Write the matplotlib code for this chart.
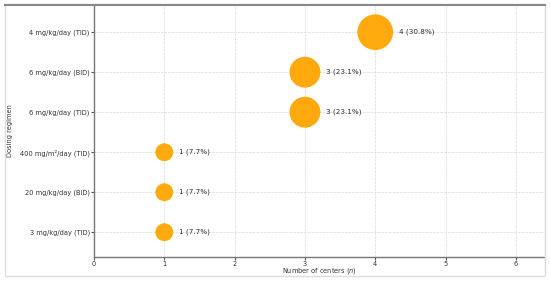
import matplotlib
matplotlib.use("Agg")
import matplotlib.pyplot as plt
from matplotlib.lines import Line2D
from matplotlib.patches import Rectangle

# data (bottom to top)
regimens = [
    "3 mg/kg/day (TID)",
    "20 mg/kg/day (BID)",
    "400 mg/m\u00b2/day (TID)",
    "6 mg/kg/day (TID)",
    "6 mg/kg/day (BID)",
    "4 mg/kg/day (TID)",
]
centers = [1, 1, 1, 3, 3, 4]
percent = [7.7, 7.7, 7.7, 23.1, 23.1, 30.8]

fig = plt.figure(figsize=(5.5, 2.82), dpi=100)
ax = fig.add_axes([94 / 550, 25 / 282, 450 / 550, 252 / 282])

ypos = list(range(len(regimens)))
sizes = [c * 165 for c in centers]
ax.scatter(centers, ypos, s=sizes, color="#FFA500", alpha=0.95, edgecolors="none", zorder=3)

for c, y, p in zip(centers, ypos, percent):
    r = (c * 165) ** 0.5 / 2  # marker radius in points
    ax.annotate(f"{c} ({p}%)", (c, y), xytext=(r + 4, 0), textcoords="offset points",
                va="center", ha="left", fontsize=5.2, color="#333333")

ax.set_yticks(ypos)
ax.set_yticklabels(regimens, fontsize=4.8, color="#333333")
ax.set_xlim(0, 6.4)
ax.set_ylim(-0.62, 5.68)
ax.set_xticks(range(0, 7))
ax.tick_params(axis="x", labelsize=4.8, colors="#555555", labelcolor="#333333", length=2, pad=1)
ax.tick_params(axis="y", length=2, pad=1, colors="#555555", labelcolor="#333333")

ax.set_xlabel("Number of centers ($\\it{n}$)", fontsize=4.8, color="#333333")
ax.set_ylabel("Dosing regimen", fontsize=4.8, color="#333333")
ax.xaxis.set_label_coords(0.5, -14 / 252, transform=ax.transAxes)
ax.yaxis.set_label_coords(-84 / 450, 0.5, transform=ax.transAxes)
ax.xaxis.label.set_va("center")
ax.yaxis.label.set_va("center")

ax.grid(True, linestyle="--", linewidth=0.5, color="#d9d9d9", zorder=0)
for side in ["top", "right"]:
    ax.spines[side].set_visible(False)
for side in ["left", "bottom"]:
    ax.spines[side].set_color("#777777")
    ax.spines[side].set_linewidth(1.0)

# figure frame
fig.patches.append(Rectangle((5 / 550, 6 / 282), 540 / 550, 272 / 282, transform=fig.transFigure,
                             fill=False, edgecolor="#dddddd", linewidth=1.0))
fig.lines.append(Line2D([5 / 550, 545 / 550], [277 / 282, 277 / 282], transform=fig.transFigure,
                        color="#888888", linewidth=1.5))

fig.savefig("out.png", dpi=100)
